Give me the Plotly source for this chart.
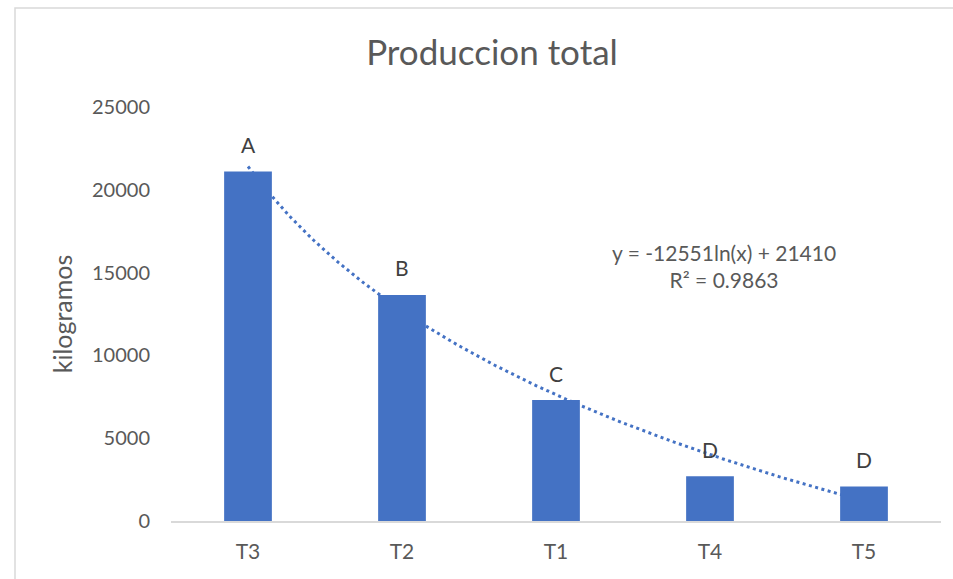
import numpy as np
import plotly.graph_objects as go

# Total production per treatment (kg), ordered as in the chart
tratamientos = ["T3", "T2", "T1", "T4", "T5"]
produccion = [21100, 13650, 7300, 2700, 2080]
letras = ["A", "B", "C", "D", "D"]

# Logarithmic trendline y = a*ln(x) + b, as reported on the chart
coef_a = -12551
coef_b = 21410
r2 = 0.9863

W, H = 953, 579
ML, MR, MT, MB = 171, 12, 107, 58
PW, PH = W - ML - MR, H - MT - MB

BLUE = "#4472C4"
GRAY_TXT = "#595959"
DARK_TXT = "#404040"
LINE_GRAY = "#D9D9D9"
FONT = "Lato"

x_idx = np.linspace(1, len(tratamientos), 300)
y_fit = coef_a * np.log(x_idx) + coef_b

fig = go.Figure()

# trendline on the base axes so the bars (overlay axes) sit above it
fig.add_trace(go.Scatter(
    x=x_idx - 1, y=y_fit, mode="lines",
    line=dict(color=BLUE, width=3, dash="3px,3.5px"),
    xaxis="x", yaxis="y", showlegend=False, hoverinfo="skip",
))

fig.add_trace(go.Bar(
    x=tratamientos, y=produccion, marker=dict(color=BLUE, line=dict(width=0)),
    width=0.31, xaxis="x2", yaxis="y2", showlegend=False,
))

# significance letters above each bar
for i, (t, v, l) in enumerate(zip(tratamientos, produccion, letras)):
    fig.add_annotation(x=i, y=v, xref="x", yref="y", text=l, showarrow=False,
                       yanchor="middle", yshift=27,
                       font=dict(family=FONT, size=21, color=DARK_TXT))

fig.add_annotation(
    x=3.09, y=15400, xref="x", yref="y", showarrow=False, align="center",
    text=f"y = {coef_a}ln(x) + {coef_b}<br>R² = {r2}",
    font=dict(family=FONT, size=21, color=GRAY_TXT),
)

# chart frame (partially extending past the page)
def px_x(p):
    return (p - ML) / PW


def px_y(p):
    return (H - MB - p) / PH


fig.add_shape(type="rect", xref="paper", yref="paper",
              x0=px_x(15), x1=px_x(W + 20), y0=px_y(H + 20), y1=px_y(8),
              line=dict(color=LINE_GRAY, width=1.5), fillcolor="rgba(0,0,0,0)")

fig.update_layout(
    width=W, height=H,
    margin=dict(l=ML, r=MR, t=MT, b=MB),
    paper_bgcolor="white", plot_bgcolor="white",
    title=dict(text="Produccion total", x=492 / W, xref="container", xanchor="center",
               y=1 - 53 / H, yref="container", yanchor="middle",
               font=dict(family=FONT, size=35, color=GRAY_TXT)),
    xaxis=dict(range=[-0.5, 4.5], visible=False, fixedrange=True),
    yaxis=dict(range=[0, 25000], visible=False, fixedrange=True),
    xaxis2=dict(overlaying="x", side="bottom", type="category",
                categoryorder="array", categoryarray=tratamientos,
                range=[-0.5, 4.5], showgrid=False, zeroline=False,
                showline=True, linecolor=LINE_GRAY, linewidth=2,
                ticks="", ticklabelstandoff=11,
                tickfont=dict(family=FONT, size=21, color=GRAY_TXT)),
    yaxis2=dict(overlaying="y", side="left", range=[0, 25000], dtick=5000,
                tickformat="d",
                showgrid=False, zeroline=False, showline=False, ticks="",
                ticklabelstandoff=20,
                tickfont=dict(family=FONT, size=20, color=GRAY_TXT),
                title=dict(text="kilogramos", standoff=12,
                           font=dict(family=FONT, size=25, color=GRAY_TXT))),
)

fig.write_html("out.html")
